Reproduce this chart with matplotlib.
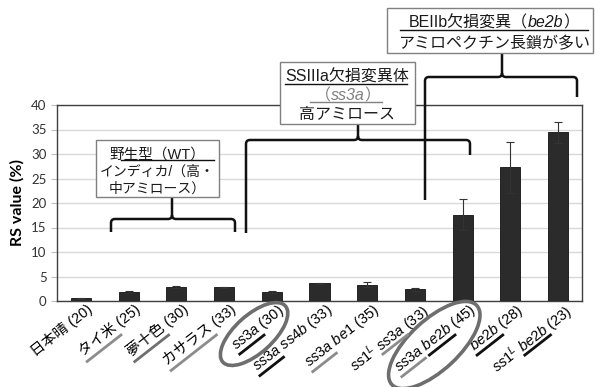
import matplotlib
matplotlib.use('Agg')
import matplotlib.pyplot as plt
from matplotlib.patches import Ellipse, Rectangle, PathPatch
from matplotlib.path import Path
from matplotlib.lines import Line2D
from matplotlib.transforms import ScaledTranslation, IdentityTransform
import numpy as np

plt.rcParams['font.family'] = ['Liberation Sans', 'Noto Sans CJK JP']
plt.rcParams['mathtext.fontset'] = 'custom'
plt.rcParams['mathtext.rm'] = 'Liberation Sans'
plt.rcParams['mathtext.it'] = 'Liberation Sans:italic'

# data
labels = ['日本晴 (20)', 'タイ米 (25)', '夢十色 (30)', 'カサラス (33)',
          r'$\mathit{ss3a}$ (30)', r'$\mathit{ss3a}$ $\mathit{ss4b}$ (33)',
          r'$\mathit{ss3a}$ $\mathit{be1}$ (35)', r'$\mathit{ss1}^{\mathit{L}}$ $\mathit{ss3a}$ (33)',
          r'$\mathit{ss3a}$ $\mathit{be2b}$ (45)', r'$\mathit{be2b}$ (28)',
          r'$\mathit{ss1}^{\mathit{L}}$ $\mathit{be2b}$ (23)']
rs_value = [0.6, 1.9, 2.8, 2.8, 1.9, 3.6, 3.3, 2.4, 17.6, 27.3, 34.4]
rs_err = [0.1, 0.2, 0.2, 0.15, 0.2, 0.1, 0.5, 0.3, 3.2, 5.2, 2.2]

GREY, DGREY, BLACK = '#8c8c8c', '#6f6f6f', '#111111'
# underlined part of each tick label: from end of first string to end of second
underline_spans = [
    [],
    [(' (25)', 'タイ米 (25)', GREY)],
    [(' (30)', '夢十色 (30)', DGREY)],
    [(' (33)', 'カサラス (33)', GREY)],
    [(' (30)', labels[4], BLACK)],
    [(r' $\mathit{ss4b}$ (33)', labels[5], BLACK)],
    [(r' $\mathit{be1}$ (35)', labels[6], GREY)],
    [(' (33)', r'$\mathit{ss3a}$ (33)', GREY)],
    [(' (45)', r'$\mathit{be2b}$ (45)', BLACK), (r' $\mathit{be2b}$ (45)', labels[8], GREY)],
    [(' (28)', labels[9], BLACK)],
    [(' (23)', r'$\mathit{be2b}$ (23)', BLACK)],
]

W, H = 595, 387
fig = plt.figure(figsize=(W / 100, H / 100), dpi=100)
ax = fig.add_axes([57 / W, 1 - 301 / H, (582 - 57) / W, (301 - 105) / H])

x = np.arange(len(labels))
ax.bar(x, rs_value, width=0.42, color='#2b2b2b', edgecolor='#111111', linewidth=0.6,
       yerr=rs_err, capsize=3, error_kw=dict(elinewidth=0.8, capthick=0.8, ecolor='#333333'),
       zorder=3)
ax.set_xlim(-0.5, len(labels) - 0.5)
ax.set_ylim(0, 40)
ax.set_yticks(range(0, 41, 5))
ax.grid(axis='y', color='#d9d9d9', linewidth=1, zorder=0)
for s in ax.spines.values():
    s.set_color('#404040')
    s.set_linewidth(1)
ax.tick_params(axis='y', length=4, color='#bfbfbf', labelsize=9.5, labelcolor='#333333')
for t in ax.get_yticklabels():
    t.set_family('Lato')
ax.tick_params(axis='x', length=0, pad=2)
ax.set_xticks(x)
ax.set_xticklabels(labels, rotation=38, ha='right', va='top', rotation_mode='anchor',
                   fontsize=10.5)
for t in ax.get_xticklabels():
    t.set_transform(t.get_transform() + ScaledTranslation(0.055, 0.025, fig.dpi_scale_trans))
ax.set_ylabel('RS value (%)', fontsize=11.5, fontweight='bold', family='Lato', labelpad=5)


def px(xi, yi):
    return xi / W, 1 - yi / H


fig.canvas.draw()
rend = fig.canvas.get_renderer()


def text_size(s):
    t = fig.text(0, 0, s, fontsize=10.5)
    bb = t.get_window_extent(rend)
    t.remove()
    return bb.width, bb.height


# underlines below the rotated tick labels
ang = np.deg2rad(38)
u = np.array([-np.cos(ang), -np.sin(ang)])   # along label, away from tick
v = np.array([np.sin(ang), -np.cos(ang)])    # below label
h = text_size('ss3a (30)')[1]
for t, spans in zip(ax.get_xticklabels(), underline_spans):
    anchor = np.array(t.get_transform().transform(t.get_position()))
    for a, b, c in spans:
        s0 = text_size(a)[0] + 1
        s1 = text_size(b)[0]
        p0 = anchor + s0 * u + (h + 4.5) * v
        p1 = anchor + s1 * u + (h + 4.5) * v
        fig.add_artist(Line2D([p0[0], p1[0]], [p0[1], p1[1]], color=c, linewidth=2,
                              transform=IdentityTransform()))

for i, dx, dy, w, eh, a in [(4, -17.7, -33, 84, 38, 42), (8, -28.4, -44, 116, 50, 43)]:
    tx, ty = ax.transData.transform((i, 0))
    fig.add_artist(Ellipse((tx + dx, ty + dy), w, eh, angle=a, fill=False,
                           edgecolor='#6e6e6e', linewidth=2.6, transform=IdentityTransform()))


def bracket(x0, x1, xc, yh, yb0, yb1, ytop, r=4):
    verts = [(x0, yb0), (x0, yh + r), (x0, yh), (x0 + r, yh), (xc - r, yh), (xc, yh), (xc, yh - r),
             (xc, ytop), (xc, yh - r), (xc, yh), (xc + r, yh), (x1 - r, yh), (x1, yh), (x1, yh + r),
             (x1, yb1)]
    codes = [Path.MOVETO, Path.LINETO, Path.CURVE3, Path.CURVE3, Path.LINETO, Path.CURVE3, Path.CURVE3,
             Path.LINETO, Path.MOVETO, Path.CURVE3, Path.CURVE3, Path.LINETO, Path.CURVE3, Path.CURVE3,
             Path.LINETO]
    verts = [px(a, b) for a, b in verts]
    fig.add_artist(PathPatch(Path(verts, codes), fill=False, edgecolor='#111111', linewidth=1.8,
                             transform=fig.transFigure))


def box(x0, y0, x1, y1):
    fig.add_artist(Rectangle(px(x0, y1), (x1 - x0) / W, (y1 - y0) / H, facecolor='white',
                             edgecolor='#808080', linewidth=1, transform=fig.transFigure, zorder=5))


def uline(x0, x1, y, c='#111111'):
    fig.add_artist(Line2D([x0 / W, x1 / W], [1 - y / H] * 2, color=c, linewidth=1,
                          transform=fig.transFigure, zorder=6))


def rich_line(parts, xc, y, size):
    ts = [fig.text(0, 0, s, fontsize=size, style=st, color=c, va='center_baseline', ha='left', zorder=6)
          for s, st, c in parts]
    ws = [t.get_window_extent(rend).width for t in ts]
    xx = xc - sum(ws) / 2
    for t, w in zip(ts, ws):
        t.set_position(px(xx, y))
        xx += w


bracket(111, 235, 172, 219, 232, 232, 197)
bracket(246, 470, 358, 140, 233, 155, 124)
bracket(425, 577, 502, 77, 200, 97, 53)

tc = '#1a1a1a'
box(96, 140, 219, 197)
rich_line([('野生型（WT）', 'normal', tc)], 157.5, 153, 10.5)
rich_line([('インディカ/（高・', 'normal', tc)], 157.5, 170, 10)
rich_line([('中アミロース）', 'normal', tc)], 157.5, 187, 10)
uline(121, 214, 160)

box(280, 62, 415, 124)
rich_line([('SSIIIa欠損変異体', 'normal', tc)], 347.5, 76, 11.5)
rich_line([('（', 'normal', '#808080'), ('ss3a', 'italic', '#808080'), ('）', 'normal', '#808080')],
          347.5, 94.5, 11.5)
rich_line([('高アミロース', 'normal', tc)], 347.5, 113, 11.5)
uline(285, 407, 84)
uline(310, 382, 102, '#808080')

box(387, 8, 593, 53)
rich_line([('BEIIb欠損変異（', 'normal', tc), ('be2b', 'italic', tc), ('）', 'normal', tc)],
          494, 21, 11.5)
rich_line([('アミロペクチン長鎖が多い', 'normal', tc)], 494, 42, 11.5)
uline(400, 588, 30)

fig.savefig('out.png', dpi=100)
